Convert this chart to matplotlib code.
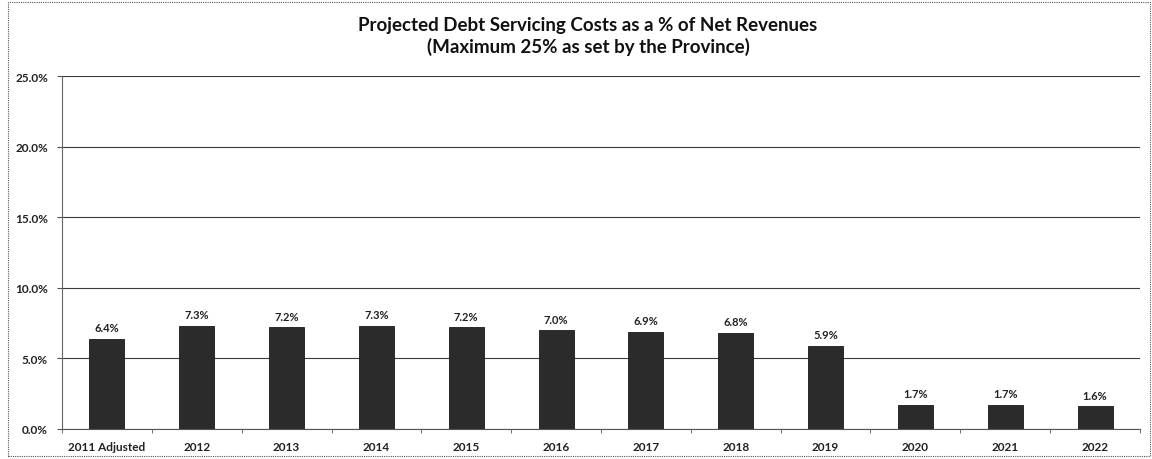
import matplotlib
matplotlib.use("Agg")
import matplotlib.pyplot as plt
from matplotlib.patches import Rectangle
from matplotlib.ticker import FuncFormatter, MultipleLocator
import numpy as np

plt.rcParams['font.family'] = ['Lato', 'DejaVu Sans']

categories = ["2011 Adjusted", "2012", "2013", "2014", "2015", "2016",
              "2017", "2018", "2019", "2020", "2021", "2022"]
values = [6.4, 7.3, 7.2, 7.3, 7.2, 7.0, 6.9, 6.8, 5.9, 1.7, 1.7, 1.6]
title = "Projected Debt Servicing Costs as a % of Net Revenues\n(Maximum 25% as set by the Province)"

W, H = 1152, 460
fig = plt.figure(figsize=(W / 100, H / 100), dpi=100)
ax = fig.add_axes([62 / W, 1 - 430 / H, (1140 - 62) / W, (430 - 77) / H])

x = np.arange(len(categories))
ax.bar(x, values, width=0.39, color="#2b2b2b", edgecolor="#1a1a1a", linewidth=0.6, zorder=3)

for xi, v in zip(x, values):
    ax.annotate(f"{v:.1f}%", (xi, v), xytext=(0, 4), textcoords="offset points",
                ha="center", va="bottom", fontsize=8, fontweight="bold", color="#222222")

ax.set_xlim(-0.5, len(categories) - 0.5)
ax.set_ylim(0, 25)
ax.yaxis.set_major_locator(MultipleLocator(5))
ax.yaxis.set_major_formatter(FuncFormatter(lambda v, p: f"{v:.1f}%"))
ax.set_xticks(x)
ax.set_xticklabels(categories)
ax.set_xticks(np.arange(-0.5, len(categories), 1), minor=True)
ax.tick_params(axis="x", which="major", length=0, pad=8.5, labelsize=8.5)
ax.tick_params(axis="x", which="minor", length=3, color="#555555", direction="out")
ax.tick_params(axis="y", length=3.6, color="#555555", labelsize=8.5, pad=6.5)
for lab in ax.get_xticklabels() + ax.get_yticklabels():
    lab.set_fontweight("bold")
    lab.set_color("#222222")

ax.grid(axis="y", color="#3a3a3a", linewidth=0.8, zorder=0)
for s in ["top", "right"]:
    ax.spines[s].set_visible(False)
ax.spines["left"].set_color("#666666")
ax.spines["left"].set_linestyle((0, (1, 1)))
ax.spines["bottom"].set_color("#555555")
ax.spines["bottom"].set_linestyle((0, (1, 1)))

fig.text(588 / W, 1 - 36.5 / H, title, ha="center", va="center", fontsize=13.5,
         fontweight="bold", color="#111111", linespacing=1.2)

fig.patches.append(Rectangle((8 / W, 3 / H), (1150 - 8) / W, (457 - 3) / H,
                             transform=fig.transFigure, fill=False,
                             edgecolor="#555555", linewidth=0.8, linestyle=(0, (1, 1))))

fig.savefig("out.png", dpi=100)
